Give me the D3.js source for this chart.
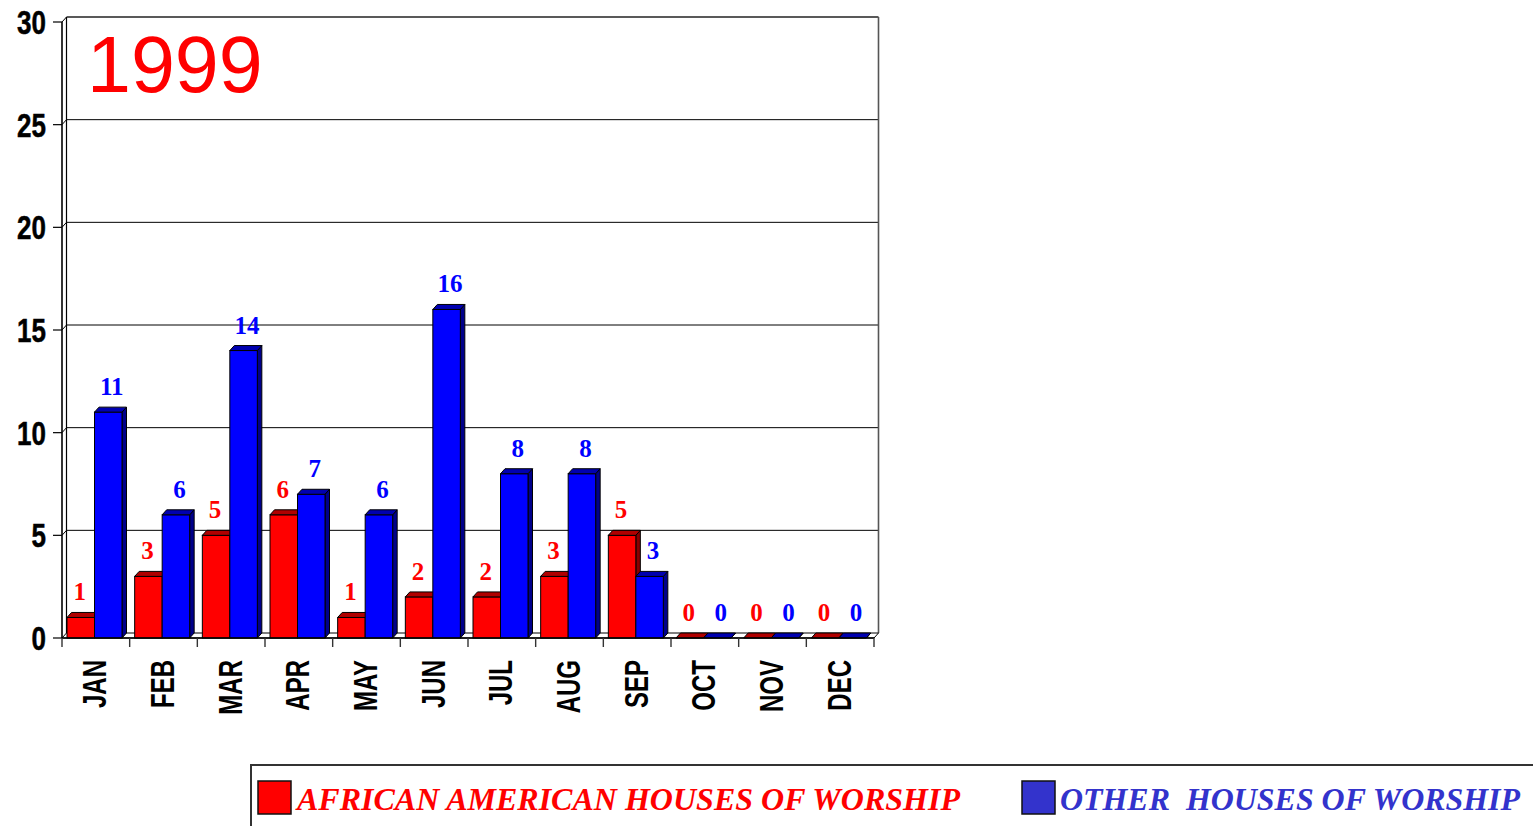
<!DOCTYPE html>
<html>
<head>
<meta charset="utf-8">
<script src="https://cdn.jsdelivr.net/npm/d3@7"></script>
<style>
  html, body { margin: 0; padding: 0; background: #fff; }
  svg { display: block; }
</style>
</head>
<body>
<svg id="chart" width="1533" height="826"></svg>
<script>
// ---- data ----
const months = ["JAN","FEB","MAR","APR","MAY","JUN","JUL","AUG","SEP","OCT","NOV","DEC"];
const african = [1,3,5,6,1,2,2,3,5,0,0,0];
const other = [11,6,14,7,6,16,8,8,3,0,0,0];
const yTicks = [0,5,10,15,20,25,30];
const seriesNames = ["AFRICAN AMERICAN HOUSES OF WORSHIP", "OTHER  HOUSES OF WORSHIP"];
const titleText = "1999";

// ---- layout ----
const svg = d3.select("#chart");
const X0 = 62, X1 = 874, Y0 = 638, YTOP = 22;
const DX = 4.5, DY = 5;
const x = d3.scaleBand().domain(months).range([X0, X1]).paddingInner(0).paddingOuter(0);
const y = d3.scaleLinear().domain([0, 30]).range([Y0, YTOP]);
const barW = 27.5, barOff = 5;

const colors = [
  {front: "#FF0000", top: "#B00000", side: "#8A0000", label: "#FF0000", legend: "#FF0000", legendText: "#FF0000", labelShift: -1},
  {front: "#0000FF", top: "#0000B0", side: "#00008A", label: "#0000FF", legend: "#3333CC", legendText: "#3333CC", labelShift: 3.5}
];

// back wall
const g = svg.append("g");
g.append("rect").attr("x", X0 + DX).attr("y", y(30) - DY)
  .attr("width", X1 - X0).attr("height", y(0) - y(30))
  .attr("fill", "#fff").attr("stroke", "none");

// gridlines on back wall + left wall diagonals
yTicks.forEach(t => {
  if (t === 0) return;
  g.append("line").attr("x1", X0 + DX).attr("x2", X1 + DX)
    .attr("y1", y(t) - DY).attr("y2", y(t) - DY)
    .attr("stroke", t === 30 ? "#222" : "#000").attr("stroke-width", t === 30 ? 1.6 : 1);
  g.append("line").attr("x1", X0).attr("x2", X0 + DX)
    .attr("y1", y(t)).attr("y2", y(t) - DY)
    .attr("stroke", "#000").attr("stroke-width", 1);
});
// right edge of back wall
g.append("line").attr("x1", X1 + DX).attr("x2", X1 + DX)
  .attr("y1", y(30) - DY).attr("y2", y(0) - DY)
  .attr("stroke", "#555").attr("stroke-width", 1.6);
// left wall lines
g.append("line").attr("x1", X0 + DX).attr("x2", X0 + DX)
  .attr("y1", y(30) - DY).attr("y2", y(0) - DY).attr("stroke", "#000").attr("stroke-width", 1.2);
g.append("line").attr("x1", X0).attr("x2", X0)
  .attr("y1", y(30)).attr("y2", y(0)).attr("stroke", "#000").attr("stroke-width", 1.6);

// floor
g.append("path")
  .attr("d", `M${X0},${Y0} L${X1},${Y0} L${X1 + DX},${Y0 - DY} L${X0 + DX},${Y0 - DY} Z`)
  .attr("fill", "#fff").attr("stroke", "#000").attr("stroke-width", 1);

// y-axis ticks and labels (tall bold digits)
yTicks.forEach(t => {
  g.append("line").attr("x1", X0 - 9).attr("x2", X0).attr("y1", y(t)).attr("y2", y(t))
    .attr("stroke", "#000").attr("stroke-width", 1.2);
  g.append("text")
    .attr("transform", `translate(46,${y(t) + 12}) scale(1,1.3)`)
    .attr("text-anchor", "end")
    .attr("font-family", "Arial, 'Liberation Sans', sans-serif")
    .attr("font-weight", "bold").attr("font-size", 26)
    .attr("stroke", "#000").attr("stroke-width", 0.4)
    .attr("fill", "#000").text(t);
});

// bars
const series = [african, other];
const bars = g.append("g");
months.forEach((m, i) => {
  series.forEach((vals, s) => {
    const v = vals[i];
    const bx = x(m) + barOff + s * barW;
    const by = y(v);
    const c = colors[s];
    const bg = bars.append("g");
    bg.append("path")
      .attr("d", `M${bx + barW},${by} L${bx + barW + DX},${by - DY} L${bx + barW + DX},${Y0 - DY} L${bx + barW},${Y0} Z`)
      .attr("fill", c.side).attr("stroke", "#000").attr("stroke-width", 1).attr("stroke-linejoin", "round");
    bg.append("rect").attr("x", bx).attr("y", by).attr("width", barW).attr("height", Y0 - by)
      .attr("fill", c.front).attr("stroke", "#000").attr("stroke-width", 1);
    bg.append("path")
      .attr("d", `M${bx},${by} L${bx + DX},${by - DY} L${bx + barW + DX},${by - DY} L${bx + barW},${by} Z`)
      .attr("fill", c.top).attr("stroke", "#000").attr("stroke-width", 1).attr("stroke-linejoin", "round");
  });
});

// value labels
months.forEach((m, i) => {
  series.forEach((vals, s) => {
    const v = vals[i];
    const cx = x(m) + barOff + s * barW + barW / 2 + colors[s].labelShift;
    g.append("text").attr("x", cx).attr("y", y(v) - 17)
      .attr("text-anchor", "middle")
      .attr("font-family", "'Times New Roman', 'Liberation Serif', serif")
      .attr("font-weight", "bold").attr("font-size", 25)
      .attr("fill", colors[s].label).text(v);
  });
});

// x axis line and ticks
g.append("line").attr("x1", X0).attr("x2", X1).attr("y1", Y0).attr("y2", Y0)
  .attr("stroke", "#000").attr("stroke-width", 1.4);
d3.range(months.length + 1).forEach(k => {
  const tx = X0 + k * x.bandwidth();
  g.append("line").attr("x1", tx).attr("x2", tx).attr("y1", Y0).attr("y2", Y0 + 9)
    .attr("stroke", "#333").attr("stroke-width", 1.4);
});

// x labels (rotated, tall condensed)
months.forEach(m => {
  const cx = x(m) + x.bandwidth() / 2;
  g.append("text")
    .attr("transform", `translate(${cx + 10.5},660) rotate(-90) scale(1,1.37)`)
    .attr("text-anchor", "end")
    .attr("font-family", "Arial, 'Liberation Sans', sans-serif")
    .attr("font-weight", "bold").attr("font-size", 24)
    .attr("fill", "#000").text(m);
});

// title
g.append("text").attr("x", 87).attr("y", 92)
  .attr("font-family", "Arial, 'Liberation Sans', sans-serif")
  .attr("font-size", 79).attr("fill", "#FF0000").text(titleText);

// legend
const lg = svg.append("g");
lg.append("rect").attr("x", 251).attr("y", 765).attr("width", 1400).attr("height", 100)
  .attr("fill", "#fff").attr("stroke", "#333").attr("stroke-width", 2);
const legendPos = [{sx: 258, tx: 297, tw: 663}, {sx: 1022, tx: 1060, tw: 460}];
seriesNames.forEach((name, s) => {
  const p = legendPos[s];
  lg.append("rect").attr("x", p.sx).attr("y", 781).attr("width", 33).attr("height", 33)
    .attr("fill", colors[s].legend).attr("stroke", "#111").attr("stroke-width", 1.5);
  lg.append("text").attr("x", p.tx).attr("y", 810)
    .attr("font-family", "'Times New Roman', 'Liberation Serif', serif")
    .attr("font-weight", "bold").attr("font-style", "italic").attr("font-size", 31)
    .attr("textLength", p.tw).attr("lengthAdjust", "spacingAndGlyphs")
    .attr("xml:space", "preserve")
    .style("white-space", "pre")
    .attr("fill", colors[s].legendText).text(name);
});
</script>
</body>
</html>
